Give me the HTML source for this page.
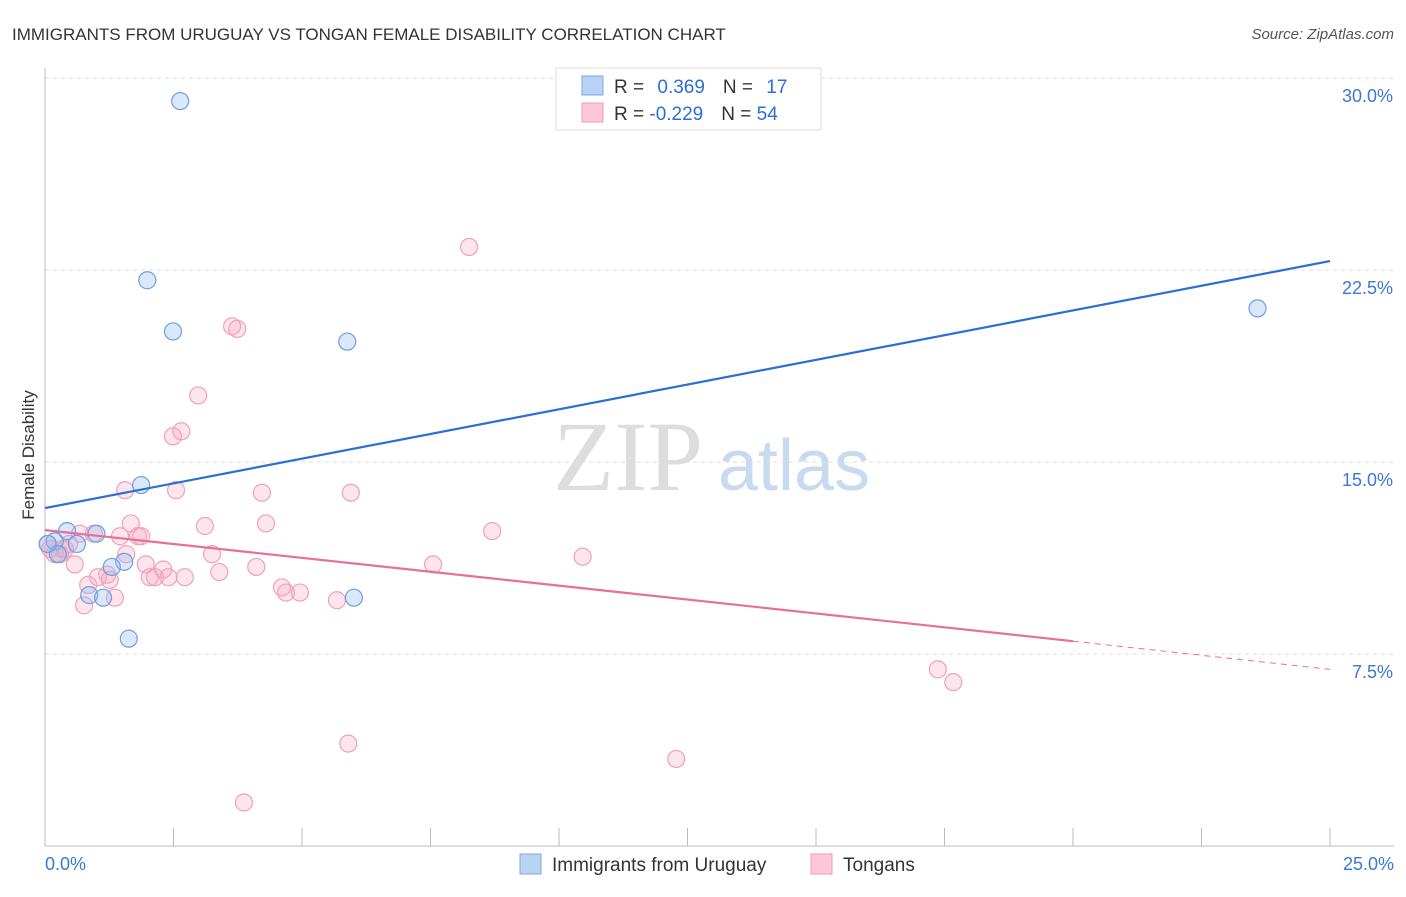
<!DOCTYPE html>
<html><head><meta charset="utf-8"><style>
body{margin:0;background:#fff;font-family:"Liberation Sans",sans-serif}
</style></head><body>
<svg id="c" width="1406" height="892" xmlns="http://www.w3.org/2000/svg" font-family="Liberation Sans, sans-serif">
<text x="12" y="40" font-size="17" fill="#333">IMMIGRANTS FROM URUGUAY VS TONGAN FEMALE DISABILITY CORRELATION CHART</text>
<text x="1394" y="39" font-size="15" fill="#555" text-anchor="end" font-style="italic">Source: ZipAtlas.com</text>
<text x="553" y="490" font-size="100" fill="#ddd" font-family="Liberation Serif, serif">ZIP</text>
<text x="718" y="490" font-size="72" fill="#c8daf0">atlas</text>
<g id="grid"></g><g id="pts"></g><g id="lines"></g>
<text x="34" y="455" font-size="17" fill="#333" text-anchor="middle" transform="rotate(-90 34 455)">Female Disability</text>
<g>
<rect x="556" y="68" width="265" height="62" fill="#fff" stroke="#ddd"/>
<rect x="582" y="76" width="21" height="19" fill="#b8d3f5" stroke="#7aa8e0"/>
<rect x="582" y="103" width="21" height="19" fill="#fcc8d8" stroke="#f09ab5"/>
<text x="614" y="93" font-size="19" fill="#333">R = <tspan fill="#2a6fd4" dx="8">0.369</tspan><tspan dx="18">N = </tspan><tspan fill="#2a6fd4" dx="8">17</tspan></text>
<text x="614" y="120" font-size="19" fill="#333">R = <tspan fill="#2a6fd4">-0.229</tspan><tspan dx="18">N = </tspan><tspan fill="#2a6fd4">54</tspan></text>
</g>
<g>
<rect x="520" y="854" width="21" height="20" fill="#b8d3f5" stroke="#7aa8e0"/>
<text x="552" y="871" font-size="19" fill="#333">Immigrants from Uruguay</text>
<rect x="811" y="854" width="21" height="20" fill="#fcc8d8" stroke="#f09ab5"/>
<text x="843" y="871" font-size="19" fill="#333">Tongans</text>
</g>
</svg>
<script>
const yTicks=[7.5,15,22.5,30];
const yTickLabels=["7.5%","15.0%","22.5%","30.0%"];
const xTicks=[0,2.5,5,7.5,10,12.5,15,17.5,20,22.5,25];
const blueX=[2.63,1.99,2.49,5.88,23.59,1.87,0.43,1.0,0.62,0.19,0.25,1.54,1.3,0.86,1.13,6.01,1.63,0.05];
const blueY=[29.1,22.1,20.1,19.7,21.0,14.1,12.3,12.2,11.8,11.9,11.4,11.1,10.9,9.8,9.7,9.7,8.1,11.8];
const pinkX=[8.25,3.64,3.74,2.98,2.65,2.49,1.56,2.55,4.22,5.95,1.67,3.11,4.3,8.7,0.95,0.68,1.46,1.81,1.87,0.47,0.33,0.19,1.58,3.25,10.46,0.58,1.96,4.11,7.55,2.3,3.39,2.04,1.21,1.03,2.14,2.4,2.72,1.26,0.84,4.61,4.69,4.96,1.36,5.68,0.76,17.37,17.67,5.9,12.28,3.87,0.1,0.06,0.29,0.39];
const pinkY=[23.4,20.3,20.2,17.6,16.2,16.0,13.9,13.9,13.8,13.8,12.6,12.5,12.6,12.3,12.2,12.2,12.1,12.1,12.1,11.8,11.6,11.4,11.4,11.4,11.3,11.0,11.0,10.9,11.0,10.8,10.7,10.5,10.6,10.5,10.5,10.5,10.5,10.4,10.2,10.1,9.9,9.9,9.7,9.6,9.4,6.9,6.4,4.0,3.4,1.7,11.6,11.8,11.4,11.6];
const blueLine=[[0,13.2],[25,22.85]];
const pinkLine=[[0,12.34],[20,8.0]];
const pinkDash=[[20,8.0],[25,6.9]];
const X=v=>45+v*(1285/25), Y=v=>846-v*25.6;
const ns="http://www.w3.org/2000/svg";
function mk(t,a,p){const e=document.createElementNS(ns,t);for(const k in a)e.setAttribute(k,a[k]);p.appendChild(e);return e;}
const g=document.getElementById('grid');
yTicks.forEach((t,i)=>{
 const l=mk('line',{x1:45,x2:1394,y1:Y(t),y2:Y(t),stroke:'#ddd','stroke-dasharray':'4,4'},g);
 
 const tx=mk('text',{x:1393,y:Y(t)+24,'font-size':18,fill:'#3a78d6','text-anchor':'end'},g);tx.textContent=yTickLabels[i];
 
});
mk('line',{x1:45,x2:1394,y1:846,y2:846,stroke:'#bbb'},g);
mk('line',{x1:45,x2:45,y1:68,y2:846,stroke:'#bbb'},g);
xTicks.forEach(t=>{const l=mk('line',{x1:X(t),x2:X(t),y1:828,y2:846,stroke:'#bbb'},g);
 });
let a=mk('text',{x:45,y:870,'font-size':18,fill:'#3a78d6'},g);a.textContent='0.0%';

a=mk('text',{x:1394,y:870,'font-size':18,fill:'#3a78d6','text-anchor':'end'},g);a.textContent='25.0%';

const p=document.getElementById('pts');
pinkX.forEach((v,i)=>{const c=mk('circle',{cx:X(v),cy:Y(pinkY[i]),r:8.5,fill:'rgba(248,170,196,0.3)',stroke:'#f0a0bb','stroke-width':1.2},p);
 });
blueX.forEach((v,i)=>{const c=mk('circle',{cx:X(v),cy:Y(blueY[i]),r:8.5,fill:'rgba(150,190,240,0.35)',stroke:'#6d9fe0','stroke-width':1.2},p);
 });
const L=document.getElementById('lines');
let l=mk('line',{x1:X(blueLine[0][0]),y1:Y(blueLine[0][1]),x2:X(blueLine[1][0]),y2:Y(blueLine[1][1]),stroke:'#2a6fd4','stroke-width':2.2},L);

l=mk('line',{x1:X(pinkLine[0][0]),y1:Y(pinkLine[0][1]),x2:X(pinkLine[1][0]),y2:Y(pinkLine[1][1]),stroke:'#e86f9a','stroke-width':2.2},L);

l=mk('line',{x1:X(pinkDash[0][0]),y1:Y(pinkDash[0][1]),x2:X(pinkDash[1][0]),y2:Y(pinkDash[1][1]),stroke:'#e86f9a','stroke-width':1,'stroke-dasharray':'6,5'},L);

</script>
</body></html>
